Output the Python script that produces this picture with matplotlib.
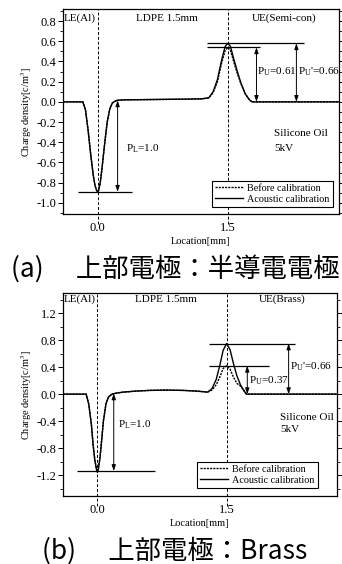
import matplotlib
matplotlib.use('Agg')
import matplotlib.pyplot as plt
from matplotlib.ticker import MultipleLocator, FormatStrFormatter

plt.rcParams['font.family'] = ['Liberation Serif', 'DejaVu Serif']
plt.rcParams['mathtext.fontset'] = 'stix'

# (a) upper electrode: semi-conductive
x_a = [-0.40, -0.17, -0.14, -0.11, -0.08, -0.05, -0.03, -0.01, 0.00, 0.01, 0.03,
       0.05, 0.08, 0.11, 0.14, 0.17, 0.22, 0.30, 0.50, 0.80, 1.00, 1.20, 1.28,
       1.33, 1.38, 1.43, 1.47, 1.50, 1.53, 1.57, 1.61, 1.65, 1.70, 1.75, 1.78,
       2.00, 2.80]
acoustic_a = [0, 0, -0.08, -0.28, -0.52, -0.73, -0.83, -0.88, -0.89, -0.88, -0.80,
              -0.66, -0.42, -0.20, -0.07, -0.01, 0.015, 0.02, 0.022, 0.025, 0.027, 0.03, 0.04,
              0.10, 0.22, 0.42, 0.55, 0.58, 0.55, 0.42, 0.30, 0.19, 0.08, 0.02, 0.0,
              0, 0]
before_a = [0, 0, -0.08, -0.28, -0.52, -0.73, -0.83, -0.88, -0.89, -0.88, -0.80,
            -0.66, -0.42, -0.20, -0.07, -0.01, 0.015, 0.02, 0.022, 0.025, 0.027, 0.03, 0.04,
            0.09, 0.20, 0.39, 0.51, 0.54, 0.51, 0.39, 0.28, 0.18, 0.08, 0.02, 0.0,
            0, 0]

# (b) upper electrode: brass
x_b = [-0.40, -0.13, -0.10, -0.07, -0.05, -0.03, -0.01, 0.00, 0.01, 0.03, 0.05,
       0.07, 0.10, 0.13, 0.17, 0.22, 0.30, 0.45, 0.60, 0.80, 1.00, 1.15, 1.28,
       1.33, 1.38, 1.42, 1.46, 1.50, 1.54, 1.58, 1.62, 1.66, 1.70, 1.73, 2.00, 2.80]
acoustic_b = [0, 0, -0.15, -0.45, -0.75, -0.98, -1.12, -1.16, -1.12, -0.95, -0.68,
              -0.40, -0.14, -0.04, 0.0, 0.015, 0.03, 0.045, 0.055, 0.06, 0.055, 0.045, 0.03,
              0.08, 0.22, 0.42, 0.65, 0.75, 0.66, 0.45, 0.27, 0.14, 0.05, 0.0, 0, 0]
before_b = [0, 0, -0.15, -0.44, -0.74, -0.97, -1.11, -1.15, -1.11, -0.94, -0.67,
            -0.39, -0.14, -0.04, 0.0, 0.015, 0.03, 0.045, 0.055, 0.06, 0.055, 0.045, 0.03,
            0.06, 0.14, 0.25, 0.38, 0.42, 0.37, 0.25, 0.16, 0.12, 0.06, 0.0, 0, 0]

panels = [
    dict(x=x_a, ac=acoustic_a, bf=before_a, ylim=(-1.11, 0.92), major=0.2, minor=0.1,
         ue='UE(Semi-con)', p_l=-0.89, p_u=0.54, p_u2=0.58, pu_txt='0.61', pu2_txt='0.66',
         caption='(a)\u3000 上部電極：半導電電極'),
    dict(x=x_b, ac=acoustic_b, bf=before_b, ylim=(-1.51, 1.50), major=0.4, minor=0.2,
         ue='UE(Brass)', p_l=-1.14, p_u=0.42, p_u2=0.75, pu_txt='0.37', pu2_txt='0.66',
         caption='(b)\u3000 上部電極：Brass'),
]

fig = plt.figure(figsize=(3.42, 5.64), dpi=100)
rects = [[0.184, 0.6206, 0.807, 0.3635], [0.184, 0.1206, 0.801, 0.360]]
legend_anchor = [(0.978, 0.034), (0.93, 0.04)]
caption_y = [0.524, 0.024]

arrow = dict(arrowstyle='<|-|>,head_length=0.35,head_width=0.12', lw=0.7,
             color='black', shrinkA=0, shrinkB=0)

for i, p in enumerate(panels):
    ax = fig.add_axes(rects[i])
    ax.plot(p['x'], p['bf'], color='black', lw=1.0, ls=(0, (1.5, 0.8)), label='Before calibration')
    ax.plot(p['x'], p['ac'], color='black', lw=1.0, label='Acoustic calibration')
    ax.set_xlim(-0.40, 2.78)
    ax.set_ylim(*p['ylim'])

    for xe in (0.0, 1.5):
        ax.axvline(xe, ymin=-0.05, ymax=1, color='black', lw=0.7, ls=(0, (3, 2)), clip_on=False)

    # reference lines and arrows
    if i == 0:
        ax.hlines(p['p_l'], -0.23, 0.40, color='black', lw=0.9)
        ax.annotate('', xy=(0.23, p['p_l']), xytext=(0.23, 0.015), arrowprops=arrow)
        ax.text(0.33, -0.46, 'P$_\\mathregular{L}$=1.0', fontsize=8, va='center')
        ax.hlines(p['p_u2'], 1.26, 2.38, color='black', lw=0.9)
        ax.hlines(p['p_u'], 1.26, 1.87, color='black', lw=0.9)
        ax.annotate('', xy=(1.83, p['p_u']), xytext=(1.83, 0.0), arrowprops=arrow)
        ax.annotate('', xy=(2.29, p['p_u2']), xytext=(2.29, 0.0), arrowprops=arrow)
        ax.text(1.84, 0.30, 'P$_\\mathregular{U}$=' + p['pu_txt'], fontsize=8, va='center')
        ax.text(2.31, 0.30, "P$_\\mathregular{U}$'=" + p['pu2_txt'], fontsize=8, va='center')
        ax.text(2.03, -0.31, 'Silicone Oil', fontsize=8, va='center')
        ax.text(2.03, -0.46, '5kV', fontsize=8, va='center')
        ytop = 0.83
    else:
        ax.hlines(p['p_l'], -0.24, 0.67, color='black', lw=0.9)
        ax.annotate('', xy=(0.19, p['p_l']), xytext=(0.19, 0.01), arrowprops=arrow)
        ax.text(0.24, -0.46, 'P$_\\mathregular{L}$=1.0', fontsize=8, va='center')
        ax.hlines(p['p_u2'], 1.29, 2.29, color='black', lw=0.9)
        ax.hlines(p['p_u'], 1.29, 1.99, color='black', lw=0.9)
        ax.annotate('', xy=(1.74, p['p_u']), xytext=(1.74, 0.0), arrowprops=arrow)
        ax.annotate('', xy=(2.22, p['p_u2']), xytext=(2.22, 0.0), arrowprops=arrow)
        ax.text(1.76, 0.20, 'P$_\\mathregular{U}$=' + p['pu_txt'], fontsize=8, va='center')
        ax.text(2.24, 0.41, "P$_\\mathregular{U}$'=" + p['pu2_txt'], fontsize=8, va='center')
        ax.text(2.12, -0.34, 'Silicone Oil', fontsize=8, va='center')
        ax.text(2.12, -0.53, '5kV', fontsize=8, va='center')
        ytop = 1.40

    ax.text(-0.39, ytop, 'LE(Al)', fontsize=8, va='center')
    ax.text(0.80, ytop, 'LDPE 1.5mm', fontsize=8, va='center', ha='center')
    ax.text(2.15, ytop, p['ue'], fontsize=8, va='center', ha='center')

    ax.set_xticks([0.0, 1.5])
    ax.set_xticklabels(['0.0', '1.5'])
    ax.tick_params(axis='x', length=0, pad=6, labelsize=9)
    ax.yaxis.set_major_locator(MultipleLocator(p['major']))
    ax.yaxis.set_minor_locator(MultipleLocator(p['minor']))
    ax.yaxis.set_major_formatter(FormatStrFormatter('%.1f'))
    ax.tick_params(axis='y', which='major', direction='out', length=3.8, width=0.7,
                   labelsize=9, pad=1)
    ax.tick_params(axis='y', which='minor', direction='out', length=2.2, width=0.6)
    ax.tick_params(axis='y', which='both', right=True, labelright=False)
    for s in ax.spines.values():
        s.set_linewidth(0.9)

    ax.set_xlabel('Location[mm]', fontsize=7.5, labelpad=2)
    ax.set_ylabel('Charge density[c/m$^3$]', fontsize=7.5, labelpad=2)

    leg = ax.legend(loc='lower right', bbox_to_anchor=legend_anchor[i], fontsize=7.3,
                    fancybox=False, edgecolor='black', framealpha=1, borderpad=0.3,
                    handlelength=2.8, handletextpad=0.4, labelspacing=0.2, borderaxespad=0)
    leg.get_frame().set_linewidth(0.8)

    fig.text(0.512, caption_y[i], p['caption'], fontsize=19, ha='center', va='center',
             family=['Noto Sans CJK JP', 'DejaVu Sans'])

fig.savefig('out.png', dpi=100)
